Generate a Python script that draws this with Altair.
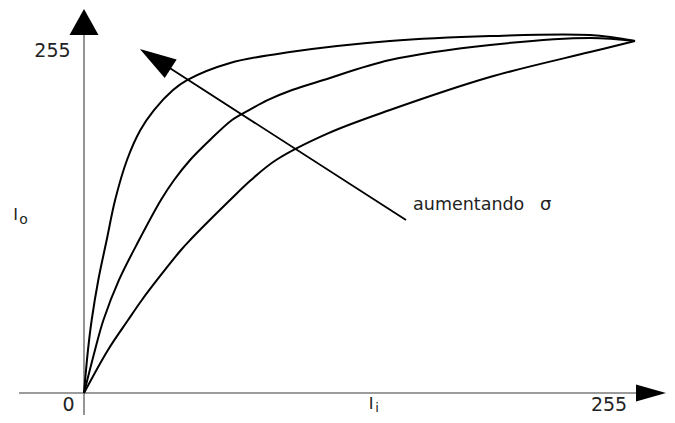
import altair as alt
import pandas as pd

# ---- data (in intensity units 0..255) ----
curve_a_x = [0, 1.85, 3.56, 6.62, 10.5, 14.4, 19.9, 26.1, 32.4, 41.2, 47.7, 67.6, 95.3, 141.6, 187.9, 234.2, 255]
curve_a_y = [0, 31.2, 52.9, 81.9, 110.8, 139.8, 168.8, 190.5, 205.0, 219.5, 226.7, 239.1, 247.0, 255.0, 258.6, 259.3, 255]
curve_b_x = [0, 5.1, 9.0, 16.2, 25.5, 35.6, 41.7, 49.1, 58.3, 68.5, 76.4, 85.2, 96.3, 110.8, 141.6, 187.9, 234.2, 255]
curve_b_y = [0, 31.2, 52.9, 81.9, 110.8, 139.8, 154.3, 168.8, 183.3, 197.8, 205.0, 212.3, 219.5, 226.7, 241.2, 252.1, 257.2, 255]
curve_c_x = [0, 11.1, 20.4, 26.8, 33.8, 44.9, 49.1, 67.6, 77.3, 88.9, 112.9, 141.6, 187.9, 234.2, 255]
curve_c_y = [0, 31.2, 52.9, 67.4, 81.9, 103.6, 110.8, 139.8, 154.3, 168.8, 188.1, 205.0, 228.9, 247.0, 255]
curve_names = ["sigma1", "sigma2", "sigma3"]

rows = []
for name, xs_, ys_ in zip(curve_names,
                          [curve_a_x, curve_b_x, curve_c_x],
                          [curve_a_y, curve_b_y, curve_c_y]):
    for i, (xv, yv) in enumerate(zip(xs_, ys_)):
        rows.append({"curve": name, "x": xv, "y": yv, "i": i})
curves = pd.DataFrame(rows)

XMIN, XMAX = -35.172, 269.81
YMIN, YMAX = -15.93, 278.91
xs = alt.Scale(domain=[XMIN, XMAX], nice=False, zero=False)
ys = alt.Scale(domain=[YMIN, YMAX], nice=False, zero=False)
X = lambda f="x": alt.X(f"{f}:Q", scale=xs, axis=None)
Y = lambda f="y": alt.Y(f"{f}:Q", scale=ys, axis=None)

AXIS_COLOR = "#7a7a7a"
TEXT_COLOR = "#222222"
FONT = "DejaVu Sans"

lines = alt.Chart(curves).mark_line(
    interpolate="catmull-rom", color="black", strokeWidth=2
).encode(x=X(), y=Y(), detail="curve:N", order="i:Q")

# axes drawn as rules
x_axis = alt.Chart(pd.DataFrame({"x": [-30.1], "x2": [257.3], "y": [0]})).mark_rule(
    color=AXIS_COLOR, strokeWidth=1.6
).encode(x=X(), x2="x2:Q", y=Y())
y_axis = alt.Chart(pd.DataFrame({"x": [0], "y": [YMIN], "y2": [263.0]})).mark_rule(
    color=AXIS_COLOR, strokeWidth=1.6
).encode(x=X(), y=Y(), y2="y2:Q")

x_head = alt.Chart(pd.DataFrame({"x": [262.4], "y": [0]})).mark_point(
    shape="M1,0L-1,-0.567L-1,0.567Z", size=900, filled=True, color="black",
    opacity=1, strokeWidth=0
).encode(x=X(), y=Y())
y_head = alt.Chart(pd.DataFrame({"x": [0], "y": [268.8]})).mark_point(
    shape="M0,-0.9L-1,0.9L1,0.9Z", size=841, filled=True, color="black",
    opacity=1, strokeWidth=0
).encode(x=X(), y=Y())

# "aumentando sigma" arrow
sig_line = alt.Chart(pd.DataFrame({"x": [149.02], "y": [125.33], "x2": [38.23], "y2": [236.82]})).mark_rule(
    color="black", strokeWidth=1.8
).encode(x=X(), y=Y(), x2="x2:Q", y2="y2:Q")
sig_head = alt.Chart(pd.DataFrame({"x": [32.99], "y": [242.03]})).mark_point(
    shape="M1,0L-1,-0.6L-1,0.6Z", size=1344, angle=212.74, filled=True,
    color="black", opacity=1, strokeWidth=0
).encode(x=X(), y=Y())

def label(txt, x, y, size, align="center", baseline="alphabetic"):
    return alt.Chart(pd.DataFrame({"x": [x], "y": [y], "t": [txt]})).mark_text(
        font=FONT, fontSize=size, color=TEXT_COLOR, align=align, baseline=baseline
    ).encode(x=X(), y=Y(), text="t:N")

texts = [
    label("255", -14.6, 243.4, 19),
    label("0", -7.2, -15.8, 19, baseline="bottom"),
    label("255", 243.0, -15.8, 19, baseline="bottom"),
    label("I", -31.7, 125.3, 16),
    label("o", -28.0, 122.4, 14),
    label("I", 132.9, -13.8, 16, baseline="bottom"),
    label("i", 135.6, -15.8, 13, baseline="bottom"),
    label("aumentando", 152.3, 132.6, 17.5, align="left"),
    label("σ", 211.0, 132.6, 18, align="left"),
]

chart = alt.layer(
    x_axis, y_axis, lines, x_head, y_head, sig_line, sig_head, *texts
).properties(
    width=659, height=407, padding=0, autosize="none", background="white"
).configure_view(stroke=None)

chart.save("out.html", embed_options={"renderer": "svg", "actions": False})
